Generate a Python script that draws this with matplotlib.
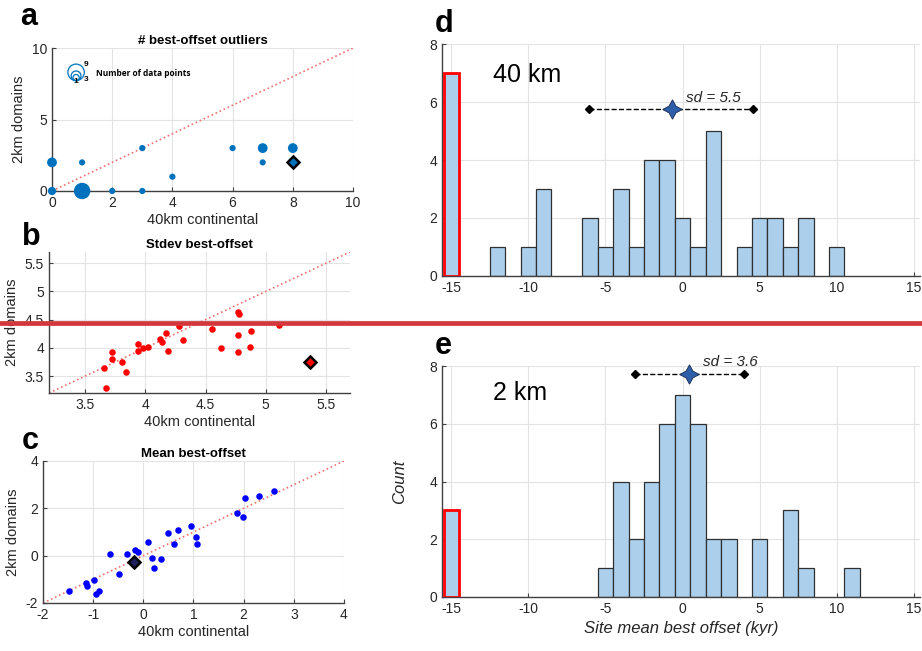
import numpy as np
import matplotlib
matplotlib.use('Agg')
import matplotlib.pyplot as plt
from matplotlib.lines import Line2D
from matplotlib.ticker import FormatStrFormatter

plt.rcParams['font.family'] = ['Liberation Sans', 'DejaVu Sans']
plt.rcParams['axes.unicode_minus'] = False

# ---- panel a: number of best-offset outliers (bubble = number of sites)
a_x = [0, 0, 1, 1, 2, 3, 3, 4, 6, 7, 7, 8, 8]
a_y = [0, 2, 0, 2, 0, 0, 3, 1, 3, 3, 2, 3, 2]
a_n = [2, 3, 9, 1, 1, 1, 1, 1, 1, 3, 1, 3, 3]
a_special = (8, 2)

# ---- panel b: stdev best offset
b_x = [3.66, 3.67, 3.72, 3.72, 3.81, 3.84, 3.94, 3.94, 3.98, 4.02, 4.12, 4.14, 4.17,
       4.19, 4.28, 4.31, 4.55, 4.63, 4.77, 4.78, 4.77, 4.77, 4.87, 4.88, 5.11]
b_y = [3.64, 3.28, 3.93, 3.80, 3.75, 3.57, 4.07, 3.94, 3.99, 4.01, 4.15, 4.11, 4.26,
       3.94, 4.39, 4.14, 4.34, 4.00, 4.63, 4.60, 4.22, 3.93, 4.02, 4.30, 4.41]
b_special = (5.37, 3.75)

# ---- panel c: mean best offset
c_x = [-1.48, -1.14, -1.12, -0.99, -0.94, -0.88, -0.67, -0.49, -0.32, -0.17, -0.11,
       0.09, 0.17, 0.21, 0.35, 0.50, 0.61, 0.70, 0.96, 1.04, 1.06, 1.87, 1.99, 2.03,
       2.31, 2.60]
c_y = [-1.48, -1.14, -1.27, -1.03, -1.64, -1.48, 0.08, -0.76, 0.06, 0.23, 0.17,
       0.59, -0.08, -0.51, -0.14, 0.97, 0.48, 1.09, 1.26, 0.79, 0.48, 1.82, 1.62, 2.42,
       2.51, 2.75]
c_special = (-0.18, -0.28)

# ---- panels d/e: histograms of site mean best offset (kyr), 1-kyr bins
d_centers = [-12, -10, -9, -6, -5, -4, -3, -2, -1, 0, 1, 2, 4, 5, 6, 7, 8, 10]
d_counts = [1, 1, 3, 2, 1, 3, 1, 4, 4, 2, 1, 5, 1, 2, 2, 1, 2, 1]
d_outlier = 7
d_mean, d_lo, d_hi, d_sd = -0.7, -6.05, 4.6, 5.5
d_level = 5.76

e_centers = [-5, -4, -3, -2, -1, 0, 1, 2, 3, 5, 7, 8, 11]
e_counts = [1, 4, 2, 4, 6, 7, 6, 2, 2, 2, 3, 1, 1]
e_outlier = 3
e_mean, e_lo, e_hi, e_sd = 0.44, -3.07, 4.0, 3.6
e_level = 7.71

outlier_pos = -15

mblue = '#0072BD'
hist_face = '#acd0ec'
grid_c = '#e3e3e3'
spine_c = '#404040'


def bubble(n):
    return 15 * n + 5


def matlab_style(ax):
    for s in ['top', 'right']:
        ax.spines[s].set_visible(False)
    for s in ['left', 'bottom']:
        ax.spines[s].set_color(spine_c)
        ax.spines[s].set_linewidth(1.0)
    ax.grid(True, color=grid_c, lw=0.8)
    ax.set_axisbelow(True)
    ax.tick_params(direction='in', length=3, colors=spine_c, labelcolor='#262626')
    ax.xaxis.set_major_formatter(FormatStrFormatter('%g'))
    ax.yaxis.set_major_formatter(FormatStrFormatter('%g'))


fig = plt.figure(figsize=(9.22, 6.51), dpi=100)
W, H = 922, 651


def rect(l, r, t, b):
    return [l / W, 1 - b / H, (r - l) / W, (b - t) / H]


# ---------------- a
ax = fig.add_axes(rect(52, 353, 48, 191))
matlab_style(ax)
ax.plot([0, 10], [0, 10], ':', color='#f07070', lw=1.2, zorder=1)
ax.scatter(a_x, a_y, s=[bubble(n) for n in a_n], color=mblue, zorder=3, clip_on=False, lw=0)
ax.plot(*a_special, 'D', ms=6, mfc=mblue, mec='black', mew=1.8, zorder=4, clip_on=False)
# bubble-size legend
for n, yc in zip([9, 3, 1], [8.3, 8.05, 7.93]):
    ax.scatter([0.8], [yc], s=bubble(n), facecolor='none', edgecolor=mblue, lw=0.9, zorder=3)
ax.text(1.05, 8.75, '9', fontsize=6, fontweight='bold')
ax.text(1.05, 7.7, '3', fontsize=6, fontweight='bold')
ax.text(0.72, 7.55, '1', fontsize=6, fontweight='bold')
ax.text(1.45, 8.2, 'Number of data points', fontsize=6, fontweight='bold', va='center',
        family=['Open Sans', 'DejaVu Sans'])
ax.set_xlim(0, 10)
ax.set_ylim(0, 10)
ax.set_xticks(range(0, 11, 2))
ax.set_yticks([0, 5, 10])
ax.tick_params(labelsize=10)
ax.set_title('# best-offset outliers', fontsize=9.5, fontweight='bold', pad=3)
ax.set_xlabel('40km continental', fontsize=10.5, color='#262626', labelpad=2)
ax.set_ylabel('2km domains', fontsize=10.5, color='#262626', labelpad=4)

# ---------------- b
ax = fig.add_axes(rect(49, 350, 252, 393))
matlab_style(ax)
ax.plot([3.2, 5.7], [3.2, 5.7], ':', color='#f07070', lw=1.2, zorder=1)
ax.scatter(b_x, b_y, s=22, color='red', zorder=3, lw=0)
ax.plot(*b_special, 'D', ms=6, mfc='red', mec='black', mew=1.8, zorder=4)
ax.set_xlim(3.2, 5.7)
ax.set_ylim(3.2, 5.7)
ax.set_xticks([3.5, 4, 4.5, 5, 5.5])
ax.set_yticks([3.5, 4, 4.5, 5, 5.5])
ax.tick_params(labelsize=10)
ax.set_title('Stdev best-offset', fontsize=9.5, fontweight='bold', pad=3)
ax.set_xlabel('40km continental', fontsize=10.5, color='#262626', labelpad=2)
ax.set_ylabel('2km domains', fontsize=10.5, color='#262626', labelpad=4)

# ---------------- c
ax = fig.add_axes(rect(43, 344, 461, 603))
matlab_style(ax)
ax.plot([-2, 4], [-2, 4], ':', color='#f07070', lw=1.2, zorder=1)
ax.scatter(c_x, c_y, s=22, color='blue', zorder=3, lw=0)
ax.plot(*c_special, 'D', ms=6, mfc='#202060', mec='black', mew=1.8, zorder=4)
ax.set_xlim(-2, 4)
ax.set_ylim(-2, 4)
ax.set_xticks(range(-2, 5))
ax.set_yticks([-2, 0, 2, 4])
ax.tick_params(labelsize=10)
ax.set_title('Mean best-offset', fontsize=9.5, fontweight='bold', pad=3)
ax.set_xlabel('40km continental', fontsize=10.5, color='#262626', labelpad=2)
ax.set_ylabel('2km domains', fontsize=10.5, color='#262626', labelpad=4)


# ---------------- d / e histograms
def hist_panel(ax, centers, counts, outlier, mean, lo, hi, sd, level, label, label_y, sd_y):
    matlab_style(ax)
    ax.bar(centers, counts, width=1, color=hist_face, edgecolor='#303030', lw=0.9, zorder=2)
    ax.bar([outlier_pos], [outlier], width=1, color=hist_face, edgecolor='red', lw=2, zorder=3)
    ax.plot([lo, hi], [level, level], '--', color='black', lw=1, zorder=4)
    ax.plot([lo, hi], [level, level], 'D', color='black', ms=4, zorder=5)
    ax.plot([mean], [level], marker=(4, 1, 0), ms=14, mfc='#2f5ea8', mec='#1a2a50',
            mew=0.6, zorder=6, clip_on=False)
    ax.text(mean + 0.9, sd_y, 'sd = %.1f' % sd, fontsize=11, style='italic', color='#262626')
    ax.text(-12.3, label_y, label, fontsize=18, va='center')
    ax.set_xlim(-15.6, 15.4)
    ax.set_ylim(0, 8)
    ax.set_xticks(range(-15, 16, 5))
    ax.set_yticks(range(0, 9, 2))
    ax.tick_params(labelsize=10)


ax = fig.add_axes(rect(442, 920, 44, 276))
hist_panel(ax, d_centers, d_counts, d_outlier, d_mean, d_lo, d_hi, d_sd, d_level,
           '40 km', 6.93, 6.0)

ax = fig.add_axes(rect(442, 920, 366, 597))
hist_panel(ax, e_centers, e_counts, e_outlier, e_mean, e_lo, e_hi, e_sd, e_level,
           '2 km', 7.06, 8.0)
ax.set_xlabel('Site mean best offset (kyr)', fontsize=12, style='italic', color='#262626',
              labelpad=4)
ax.set_ylabel('Count', fontsize=12, style='italic', color='#262626', labelpad=16)

# panel letters
for letter, (px, py) in zip('abcde', [(20, 17), (22, 237), (22, 441), (435, 24), (435, 346)]):
    fig.text(px / W, 1 - py / H, letter, fontsize=22, fontweight='bold', va='center')

# red separator line across the figure
fig.add_artist(Line2D([0, 1], [1 - 323.5 / H] * 2, transform=fig.transFigure,
                      color='#d2373c', lw=3.4))

fig.savefig('out.png', dpi=100)
